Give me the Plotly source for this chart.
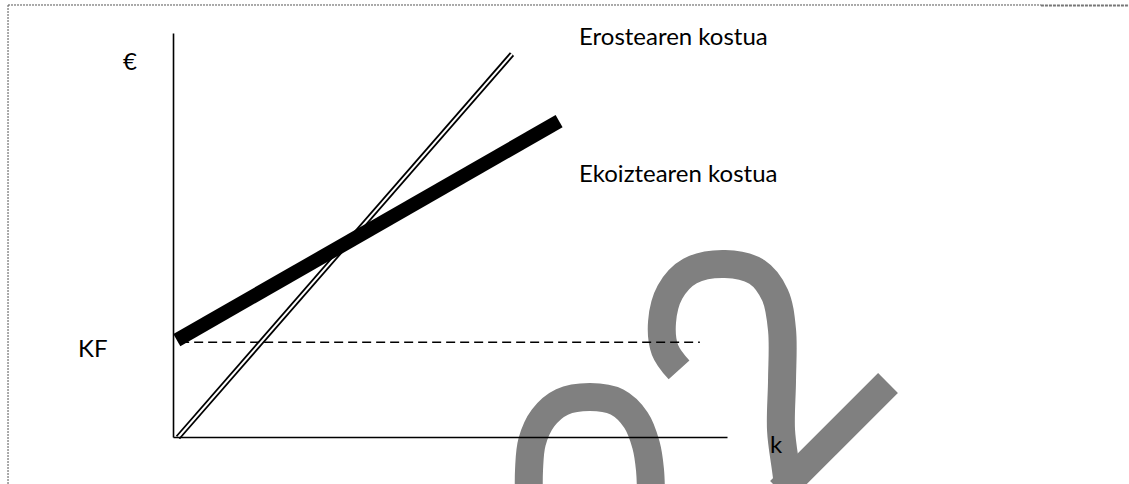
import plotly.graph_objects as go

# ---------------- diagram values (k horizontal, € vertical) ----------------
axis_k = [0, 10]          # horizontal axis (k)
axis_eur = [0, 10]        # vertical axis (€)

purchase_k = [0.08, 6.11]        # Erostearen kostua (double line)
purchase_cost = [0.0, 9.49]

production_k = [0.06, 6.96]      # Ekoiztearen kostua (thick line)
production_cost = [2.41, 7.83]

kf_k = [0.12, 9.50]              # fixed cost level (dashed)
kf_value = [2.36, 2.36]

# grey hand-drawn strokes over the figure
hook_k = [9.125, 8.872, 8.818, 8.962, 9.323, 9.955, 10.532, 10.857, 10.984, 10.984, 10.966, 11.056, 11.128]
hook_v = [1.671, 2.166, 2.859, 3.601, 4.121, 4.295, 4.097, 3.527, 2.661, 1.423, 0.186, -0.804, -1.547]
tick_k = [12.897, 10.948]
tick_v = [1.349, -1.324]
arch_k = [6.417, 6.417, 6.471, 6.670, 7.013, 7.518, 8.005, 8.348, 8.529, 8.601, 8.619]
arch_v = [-1.547, -0.804, -0.111, 0.483, 0.879, 1.002, 0.879, 0.433, -0.186, -0.804, -1.547]

# text labels
label_texts = ["€", "KF", "k"]
label_k = [-0.78, -1.47, 10.88]
label_v = [9.34, 2.24, -0.14]
series_names = ["Erostearen kostua", "Ekoiztearen kostua"]
series_label_k = [7.28, 7.28]
series_label_v = [9.96, 6.57]

FONT = "Lato, Carlito, Calibri, sans-serif"
GREY = "#808080"

fig = go.Figure()

# grey strokes (underneath)
fig.add_trace(go.Scatter(x=arch_k, y=arch_v, mode="lines",
                         line=dict(color=GREY, width=28, shape="spline", smoothing=1)))
fig.add_trace(go.Scatter(x=hook_k, y=hook_v, mode="lines",
                         line=dict(color=GREY, width=28, shape="spline", smoothing=1)))
fig.add_trace(go.Scatter(x=tick_k, y=tick_v, mode="lines",
                         line=dict(color=GREY, width=28)))

# double line (purchase cost)
fig.add_trace(go.Scatter(x=purchase_k, y=purchase_cost, mode="lines",
                         line=dict(color="black", width=5.6)))
fig.add_trace(go.Scatter(x=purchase_k, y=purchase_cost, mode="lines",
                         line=dict(color="white", width=2)))

# axes
fig.add_trace(go.Scatter(x=[axis_k[0], axis_k[0]], y=axis_eur, mode="lines",
                         line=dict(color="black", width=1.6)))
fig.add_trace(go.Scatter(x=axis_k, y=[axis_eur[0], axis_eur[0]], mode="lines",
                         line=dict(color="black", width=1.6)))

# KF dashed
fig.add_trace(go.Scatter(x=kf_k, y=kf_value, mode="lines",
                         line=dict(color="black", width=1.5, dash="9px,5px")))

# thick line (production cost)
fig.add_trace(go.Scatter(x=production_k, y=production_cost, mode="lines",
                         line=dict(color="black", width=14)))

# labels
for t, xk, yv in zip(label_texts, label_k, label_v):
    fig.add_annotation(x=xk, y=yv, text=t, showarrow=False, xanchor="center", yanchor="middle",
                       font=dict(family=FONT, size=24, color="black"))
for t, xk, yv in zip(series_names, series_label_k, series_label_v):
    fig.add_annotation(x=xk, y=yv, text=t, showarrow=False, xanchor="left", yanchor="middle",
                       font=dict(family=FONT, size=24, color="black"))

# dotted frame
fig.add_shape(type="line", xref="paper", yref="paper", x0=0.0071, x1=0.0071, y0=0, y1=0.9897,
              line=dict(color="#555555", width=1, dash="2px,1px"))
fig.add_shape(type="line", xref="paper", yref="paper", x0=0.0071, x1=0.922, y0=0.9897, y1=0.9897,
              line=dict(color="#555555", width=1, dash="2px,1px"))
fig.add_shape(type="line", xref="paper", yref="paper", x0=0.922, x1=1, y0=0.9885, y1=0.9885,
              line=dict(color="#777777", width=2, dash="3px,1px"))

fig.update_layout(
    width=1129, height=484, autosize=False,
    margin=dict(l=0, r=0, t=0, b=0),
    paper_bgcolor="white", plot_bgcolor="white",
    showlegend=False,
    xaxis=dict(range=[-3.132, 17.247], visible=False, fixedrange=True),
    yaxis=dict(range=[-1.151, 10.829], visible=False, fixedrange=True),
)

fig.write_html("out.html", config={"displayModeBar": False},
               post_script="document.body.style.margin='0';document.body.style.overflow='hidden';")
